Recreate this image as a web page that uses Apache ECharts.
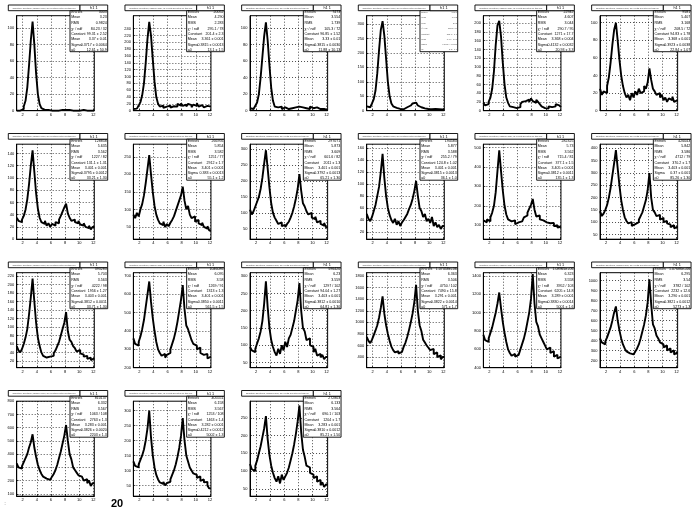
<!DOCTYPE html>
<html><head><meta charset="utf-8">
<script src="https://cdn.jsdelivr.net/npm/echarts@6/dist/echarts.min.js"></script>
<style>html,body{margin:0;padding:0;background:#fff}#c{width:700px;height:514px}</style>
</head><body><div id="c"></div>
<script>
// ---- binning and tick labels ----
const binStart = 1.15, binWidth = 0.25, nBins = 44;
const xTickLabels = [2, 4, 6, 8, 10, 12];

// ---- histogram contents (44 bins each) ----
const h01 = [0,0,1,2,5,12,28,55,85,108,80,45,20,8,3,1,0,1,0,0,1,0,1,0,2,1,0,1,0,1,0,0,1,0,0,0,0,1,0,0,0,0,0,0];
const h02 = [5,6,10,15,25,45,80,140,210,260,220,150,85,40,20,12,15,8,12,10,15,9,13,18,12,20,15,22,14,18,12,20,16,10,18,14,22,12,16,20,10,14,18,12];
const h03 = [3,2,4,6,10,20,40,65,90,107,85,55,28,12,5,4,3,5,2,4,3,2,4,3,5,4,6,5,7,4,5,3,4,2,5,3,2,4,3,2,3,2,3,1];
const h04 = [15,12,18,25,40,70,130,210,280,310,260,180,100,50,25,15,10,8,6,8,5,10,12,15,18,22,25,28,24,18,12,10,8,12,6,8,5,10,6,8,5,7,4,6];
const h05 = [18,12,15,20,30,50,90,150,195,205,170,110,60,30,18,10,8,12,6,10,8,15,20,22,18,25,20,28,22,18,25,20,15,10,6,8,5,10,8,12,10,15,12,8];
const h06 = [25,18,22,20,28,38,55,75,92,100,80,58,40,28,20,15,18,12,20,15,22,18,25,20,22,28,25,32,48,35,25,22,18,20,15,18,12,15,10,14,12,16,10,12];
const h07 = [35,30,28,32,38,48,65,90,120,145,110,75,50,35,28,25,30,22,26,20,25,22,28,26,32,38,45,52,58,42,35,30,32,28,26,30,24,22,26,20,18,22,16,20];
const h08 = [85,75,90,80,100,115,140,175,215,255,200,150,110,85,70,60,55,65,50,58,52,62,70,80,95,110,125,140,165,125,100,110,85,75,80,65,70,60,55,62,50,45,52,40];
const h09 = [110,95,105,120,135,150,175,210,255,297,240,180,130,100,85,75,65,70,58,62,55,65,72,85,100,120,145,175,222,170,130,120,105,95,100,85,80,88,70,75,65,60,68,55];
const h10 = [50,42,38,45,55,65,80,95,120,150,110,80,60,48,40,35,42,32,38,30,36,40,45,50,58,65,75,88,105,80,60,55,45,50,38,42,35,45,30,36,28,32,25,30];
const h11 = [125,115,130,120,140,165,200,270,380,485,380,280,200,155,130,120,110,125,105,115,110,120,128,140,150,165,185,205,235,180,145,150,130,125,135,115,120,110,105,112,95,100,88,92];
const h12 = [145,125,135,150,170,200,240,290,340,393,320,250,190,150,120,105,95,100,85,92,88,100,110,125,140,165,190,230,300,200,150,140,125,130,110,118,100,105,95,90,80,88,75,82];
const h13 = [55,45,40,48,60,75,95,130,170,214,160,110,75,55,40,32,28,25,30,26,32,38,45,55,65,80,95,110,135,90,70,65,55,50,42,46,38,35,30,32,25,28,22,26];
const h14 = [360,330,320,340,370,410,460,530,600,670,560,470,400,340,300,280,265,275,255,270,280,300,330,360,400,450,510,570,650,520,430,410,380,350,330,320,300,310,280,270,260,275,250,260];
const h15 = [95,85,80,90,105,120,140,170,220,285,210,150,115,95,80,70,90,75,100,85,110,95,120,130,150,170,200,230,280,200,150,140,115,120,100,95,80,90,70,75,65,72,60,66];
const h16 = [750,680,640,700,780,860,950,1080,1250,1450,1150,950,800,680,580,520,480,500,460,490,520,580,650,750,870,1000,1150,1350,1650,1200,950,850,700,650,600,560,520,540,450,480,400,430,360,400];
const h17 = [760,700,680,720,780,840,920,1000,1100,1220,1050,900,780,680,600,560,530,550,520,540,560,600,660,720,800,900,1000,1150,1420,1100,900,850,760,720,680,640,600,620,560,580,520,540,500,520];
const h18 = [420,380,360,390,430,480,530,600,680,740,600,500,420,360,320,290,270,285,260,275,290,320,360,420,490,560,650,780,1010,760,560,520,450,420,380,360,330,350,300,320,280,300,260,280];
const h19 = [330,300,290,310,340,370,400,450,490,550,450,380,320,280,250,230,215,225,205,220,230,250,280,320,370,420,480,540,620,500,400,360,300,280,260,240,230,240,200,210,180,200,160,180];
const h20 = [130,115,110,120,135,150,170,200,240,300,210,150,110,85,70,60,55,62,50,58,62,70,85,100,120,145,175,215,275,200,150,130,110,100,90,85,75,80,65,70,60,62,50,40];
const h21 = [120,105,100,115,130,150,170,195,220,255,190,145,115,95,80,70,85,65,90,75,85,95,110,130,150,175,205,240,285,210,160,140,115,110,95,90,80,85,70,75,60,68,55,62];

// ---- y axis ranges and tick labels ----
const yMins = [0,0,0,0,0,0, 0,15,17,8,28,31, 4,200,35,216,400,127, 82,14,29];
const yMaxs = [115,278,115,329,217,108, 155,286,316,166,517,417, 228,718,310,1858,1436,1077, 800,331,297];
const yTickLabels = [
  [0,20,40,60,80,100],
  [0,20,40,60,80,100,120,140,160,180,200,220,240],
  [0,20,40,60,80,100],
  [0,50,100,150,200,250,300],
  [0,20,40,60,80,100,120,140,160,180,200],
  [0,20,40,60,80,100],
  [0,20,40,60,80,100,120,140],
  [50,100,150,200,250],
  [50,100,150,200,250,300],
  [20,40,60,80,100,120,140,160],
  [100,200,300,400,500],
  [50,100,150,200,250,300,350,400],
  [20,40,60,80,100,120,140,160,180,200,220],
  [200,300,400,500,600,700],
  [50,100,150,200,250,300],
  [400,600,800,1000,1200,1400,1600,1800],
  [400,600,800,1000,1200,1400],
  [200,300,400,500,600,700,800,900,1000],
  [100,200,300,400,500,600,700,800],
  [50,100,150,200,250,300],
  [50,100,150,200,250]
];

// ---- stats box texts ----
const statLabels = ["Entries","Mean","RMS","\u03c7\u00b2 / ndf","Constant","Mean","Sigma","a0"];
const statEntries = ["3003","20052","7473","43301","22942","9581","128858","266956","297071","194583","282325","426043","393283","1046086","596420","1.07458e+06","1.08965e+06","1.07686e+06","810137","405551","272803"];
const statMean = ["3.23","4.290","3.554","3.742","4.607","5.407","5.635","5.854","5.873","5.877","5.73","5.842","5.703","6.095","6.23","6.363","6.323","6.295","6.332","6.158","6.133"];
const statRMS = ["0.9824","2.283","1.739","2.02","3.044","3.168","3.562","3.582","3.609","3.588","3.562","3.586","3.563","3.58","3.559","3.506","3.558","3.54","3.567","3.567","3.564"];
const statChi2 = ["84.23 / 32","295.1 / 78","105.3 / 72","302.8 / 70","290.7 / 95","208.5 / 72","1227 / 82","1251 / 77","601.6 / 82","255.2 / 79","715.4 / 81","4712 / 79","4222 / 98","1269 / 91","1297 / 102","4750 / 102","3952 / 103","3782 / 102","1063 / 108","1253 / 108","690.1 / 103"];
const statConst = ["99.31 \u00b1 2.52","201.4 \u00b1 2.3","96.85 \u00b1 1.52","298.1 \u00b1 3.1","1271 \u00b1 17.7","94.83 \u00b1 1.78","131.1 \u00b1 1.31","2912 \u00b1 1.7","2011 \u00b1 1.3","124.8 \u00b1 1.02","377.1 \u00b1 1.5","370.2 \u00b1 1.7","1956 \u00b1 1.27","1313 \u00b1 1.3","94.04 \u00b1 1.27","7490 \u00b1 15.8","6205 \u00b1 14.8","2232 \u00b1 12.6","2763 \u00b1 1.3","1463 \u00b1 1.4","1204 \u00b1 1.7"];
const statFitMean = ["3.37 \u00b1 0.01","3.361 \u00b1 0.001","3.33 \u00b1 0.01","3.41 \u00b1 0.01","3.368 \u00b1 0.004","3.368 \u00b1 0.001","3.401 \u00b1 0.001","3.401 \u00b1 0.001","3.401 \u00b1 0.001","3.401 \u00b1 0.001","3.405 \u00b1 0.001","3.403 \u00b1 0.001","3.403 \u00b1 0.001","3.401 \u00b1 0.001","3.403 \u00b1 0.001","3.291 \u00b1 0.001","3.289 \u00b1 0.001","3.290 \u00b1 0.001","3.283 \u00b1 0.001","3.282 \u00b1 0.001","3.283 \u00b1 0.001"];
const statSigma = ["0.3717 \u00b1 0.0064","0.3815 \u00b1 0.0013","0.3815 \u00b1 0.0030","0.3842 \u00b1 0.0021","0.4132 \u00b1 0.0032","0.3923 \u00b1 0.0038","0.3795 \u00b1 0.0012","0.383 \u00b1 0.0013","0.3792 \u00b1 0.0013","0.3815 \u00b1 0.0013","0.3812 \u00b1 0.0011","0.37 \u00b1 0.001","0.3812 \u00b1 0.0011","0.3850 \u00b1 0.0011","0.3812 \u00b1 0.0010","0.3822 \u00b1 0.0014","0.3830 \u00b1 0.0014","0.3821 \u00b1 0.0012","0.3826 \u00b1 0.0020","0.4212 \u00b1 0.0012","0.3810 \u00b1 0.0012"];
const statA0 = ["12.61 \u00b1 50.9","13.1 \u00b1 1.5","11.88 \u00b1 10.13","8.2 \u00b1 1.1","20.93 \u00b1 3.3","22.84 \u00b1 1.07","33.21 \u00b1 1.30","55.1 \u00b1 1.2","65.21 \u00b1 1.30","36.1 \u00b1 1.0","135.1 \u00b1 1.3","85.26 \u00b1 1.30","33.71 \u00b1 1.30","561.5 \u00b1 1.5","64.81 \u00b1 1.30","571 \u00b1 1.7","5001 \u00b1 1.6","5273 \u00b1 1.3","2203 \u00b1 1.3","5002 \u00b1 1.3","85.21 \u00b1 1.50"];
const histName = "h1 1";
const histTitle = "amplitude spectrum, channel sum, all events selected for this run";
const padNumber = "20";

const hists = [h01,h02,h03,h04,h05,h06,h07,h08,h09,h10,h11,h12,h13,h14,h15,h16,h17,h18,h19,h20,h21];

const chart = echarts.init(document.getElementById('c'), null, {renderer: 'canvas'});
const colW = 700 / 6, rowH = 128.5;
const FONT = 'Liberation Sans, Arial, sans-serif';
const option = {
  animation: false, backgroundColor: '#fff',
  textStyle: {fontFamily: FONT},
  grid: [], xAxis: [], yAxis: [], series: [], graphic: []
};
const statRowY = [12, 17.4, 23, 28.7, 34, 39.3, 44.5, 49.5];

hists.forEach((vals, i) => {
  const col = i % 6, row = Math.floor(i / 6);
  const ox = col * colW, oy = row * rowH;
  option.grid.push({left: ox + 16.7, top: oy + 15.7, width: 77.6, height: 95,
    show: true, borderColor: '#000', borderWidth: 1, containLabel: false});
  option.xAxis.push({
    gridIndex: i, type: 'value', min: binStart, max: binStart + nBins * binWidth,
    axisLine: {show: true, onZero: false, lineStyle: {color: '#000', width: 1}},
    axisTick: {show: true, inside: true, length: 2, customValues: xTickLabels, lineStyle: {color: '#000', width: 0.6}},
    axisLabel: {customValues: xTickLabels, fontSize: 4, margin: 2, color: '#000', formatter: v => String(v)},
    splitLine: {show: true, lineStyle: {type: [1, 2], color: '#000', width: 0.7}}
  });
  option.yAxis.push({
    gridIndex: i, type: 'value', min: yMins[i], max: yMaxs[i],
    axisLine: {show: true, onZero: false, lineStyle: {color: '#000', width: 1}},
    axisTick: {show: true, inside: true, length: 2, customValues: yTickLabels[i], lineStyle: {color: '#000', width: 0.6}},
    axisLabel: {customValues: yTickLabels[i], fontSize: 4, margin: 2.5, color: '#000', formatter: v => String(v)},
    splitLine: {show: true, lineStyle: {type: [1, 2], color: '#000', width: 0.7}}
  });
  const data = vals.map((v, k) => [binStart + k * binWidth, v]);
  data.push([binStart + nBins * binWidth, vals[vals.length - 1]]);
  option.series.push({type: 'line', xAxisIndex: i, yAxisIndex: i, data: data, step: 'end',
    symbol: 'none', silent: true, clip: true, lineStyle: {color: '#000', width: 1.9}});

  // title pave, name box, stats box
  option.graphic.push({type: 'rect', z: 100, shape: {x: ox + 8.3, y: oy + 5, width: 71.7, height: 5.7},
    style: {fill: '#fff', stroke: '#000', lineWidth: 0.9}});
  option.graphic.push({type: 'text', z: 101, style: {text: histTitle, x: ox + 44, y: oy + 8, fontSize: 2.2,
    fill: '#444', align: 'center', verticalAlign: 'middle', fontFamily: FONT}});
  option.graphic.push({type: 'rect', z: 100, shape: {x: ox + 70, y: oy + 10.7, width: 37.7, height: 41},
    style: {fill: '#fff', stroke: '#000', lineWidth: 0.9}});
  option.graphic.push({type: 'rect', z: 100, shape: {x: ox + 80, y: oy + 5, width: 27.7, height: 5.7},
    style: {fill: '#fff', stroke: '#000', lineWidth: 0.9}});
  option.graphic.push({type: 'text', z: 101, style: {text: histName, x: ox + 93.8, y: oy + 8, fontSize: 3.8,
    fill: '#000', align: 'center', verticalAlign: 'middle', fontFamily: FONT}});
  const vals2 = [statEntries[i], statMean[i], statRMS[i], statChi2[i], statConst[i], statFitMean[i], statSigma[i], statA0[i]];
  const faint = (i === 3);
  statLabels.forEach((lab, k) => {
    option.graphic.push({type: 'text', z: 101, style: {text: lab, x: ox + 71.2, y: oy + statRowY[k],
      fontSize: faint ? 2 : 3.6, fill: faint ? '#555' : '#000', align: 'left', verticalAlign: 'middle', fontFamily: FONT}});
    option.graphic.push({type: 'text', z: 101, style: {text: vals2[k], x: ox + 106.8, y: oy + statRowY[k],
      fontSize: faint ? 2 : 3.6, fill: faint ? '#555' : '#000', align: 'right', verticalAlign: 'middle', fontFamily: FONT}});
  });
});
option.graphic.push({type: 'text', z: 101, style: {text: padNumber, x: 117, y: 504, fontSize: 11, fontWeight: 'bold',
  fill: '#000', align: 'center', verticalAlign: 'middle', fontFamily: FONT}});
option.graphic.push({type: 'text', z: 101, style: {text: ':', x: 5, y: 503, fontSize: 6,
  fill: '#666', align: 'center', verticalAlign: 'middle', fontFamily: FONT}});
chart.setOption(option);
</script>
</body></html>
